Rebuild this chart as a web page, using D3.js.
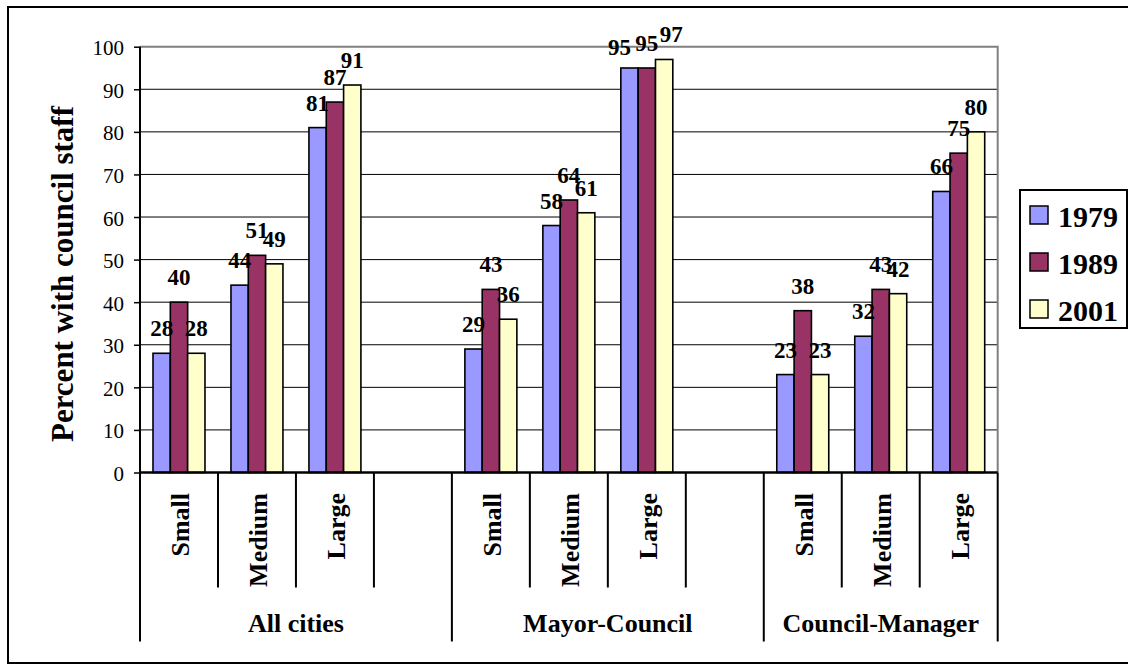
<!DOCTYPE html>
<html>
<head>
<meta charset="utf-8">
<script src="https://cdn.jsdelivr.net/npm/d3@7"></script>
<style>
  html, body { margin: 0; padding: 0; background: #fff; }
  svg { display: block; }
  text { font-family: "Liberation Serif", "Times New Roman", Times, serif; fill: #000; }
</style>
</head>
<body>
<svg id="chart" width="1128" height="665"></svg>
<script>
// City groups, size classes and survey years
const groups = ["All cities", "Mayor-Council", "Council-Manager"];
const sizes = ["Small", "Medium", "Large"];
const years = ["1979", "1989", "2001"];

// Percent of cities with council staff, ordered group by group, Small / Medium / Large
const v1979 = [28, 44, 81, 29, 58, 95, 23, 32, 66];
const v1989 = [40, 51, 87, 43, 64, 95, 38, 43, 75];
const v2001 = [28, 49, 91, 36, 61, 97, 23, 42, 80];

const yTicks = [0, 10, 20, 30, 40, 50, 60, 70, 80, 90, 100];
const colors = ["#9999FF", "#993366", "#FFFFCC"];

const series = [v1979, v1989, v2001];

// Hand-placed value labels (keyed by value index and series index): [dx, dy]
const labelNudge = { "5-0": [-10, 4], "5-2": [7, 0] };

// Category slots: three sizes per group, with an empty slot between groups
const slots = [];
groups.forEach((g, gi) => {
  sizes.forEach((s, si) => slots.push({ group: gi, size: s, idx: gi * 3 + si }));
  if (gi < groups.length - 1) slots.push({ group: gi, size: "", idx: null });
});

const svg = d3.select("#chart");

const plot = { left: 140, right: 997.7, top: 46.7, bottom: 472.5 };

const x0 = d3.scaleBand()
  .domain(d3.range(slots.length))
  .range([plot.left, plot.right])
  .paddingInner(0).paddingOuter(0);

const x1 = d3.scaleBand()
  .domain(years)
  .range([0, x0.bandwidth()])
  .paddingInner(0)
  .paddingOuter(0.75);

const y = d3.scaleLinear().domain([0, 100]).range([plot.bottom, plot.top]);

// Outer chart frame
svg.append("rect")
  .attr("x", 8).attr("y", 7)
  .attr("width", 1140).attr("height", 656)
  .attr("fill", "none").attr("stroke", "#000").attr("stroke-width", 2);

// Horizontal gridlines
svg.append("g")
  .selectAll("line")
  .data(yTicks.filter(t => t > 0 && t < 100))
  .join("line")
  .attr("x1", plot.left).attr("x2", plot.right)
  .attr("y1", d => y(d)).attr("y2", d => y(d))
  .attr("stroke", "#000").attr("stroke-width", 1);

// Plot area border (top and right, grey)
svg.append("path")
  .attr("d", `M${plot.left},${y(100)}H${plot.right}V${plot.bottom}`)
  .attr("fill", "none").attr("stroke", "#808080").attr("stroke-width", 2);

// Bars
const barData = [];
slots.forEach((sl, si) => {
  if (sl.idx === null) return;
  years.forEach((yr, k) => {
    barData.push({ slot: si, idx: sl.idx, year: yr, k, value: series[k][sl.idx] });
  });
});

svg.append("g")
  .selectAll("rect")
  .data(barData)
  .join("rect")
  .attr("x", d => x0(d.slot) + x1(d.year))
  .attr("y", d => y(d.value))
  .attr("width", x1.bandwidth())
  .attr("height", d => y(0) - y(d.value))
  .attr("fill", d => colors[d.k])
  .attr("stroke", "#000").attr("stroke-width", 1.6);

// Value labels
const nudge = d => labelNudge[`${d.idx}-${d.k}`] || [0, 0];
svg.append("g")
  .selectAll("text")
  .data(barData)
  .join("text")
  .attr("x", d => x0(d.slot) + x1(d.year) + x1.bandwidth() / 2 + nudge(d)[0])
  .attr("y", d => y(d.value) - 17 + nudge(d)[1])
  .attr("text-anchor", "middle")
  .style("font-size", "23px")
  .style("font-weight", "bold")
  .text(d => d.value);

// Y axis
const yAxis = d3.axisLeft(y).tickValues(yTicks).tickSize(6).tickPadding(10);
const yg = svg.append("g")
  .attr("transform", `translate(${plot.left},0)`)
  .call(yAxis);
yg.select(".domain").remove();
yg.selectAll(".tick line").attr("stroke", "#000").attr("stroke-width", 1.5);
yg.selectAll(".tick text")
  .attr("dy", "0.38em")
  .style("font-size", "21px")
  .style("font-family", "'Liberation Serif', 'Times New Roman', Times, serif");

// Category axis line
svg.append("line")
  .attr("x1", plot.left).attr("x2", plot.right)
  .attr("y1", plot.bottom).attr("y2", plot.bottom)
  .attr("stroke", "#000").attr("stroke-width", 2.5);

// Slot dividers below the axis; group boundaries extend further
const groupBounds = [0, 4, 8, 11];
const dividers = d3.range(slots.length + 1);
svg.append("g")
  .selectAll("line")
  .data(dividers)
  .join("line")
  .attr("x1", d => d < slots.length ? x0(d) : plot.right)
  .attr("x2", d => d < slots.length ? x0(d) : plot.right)
  .attr("y1", d => d === 0 ? plot.top : plot.bottom)
  .attr("y2", d => groupBounds.includes(d) ? 641.5 : 587.5)
  .attr("stroke", "#000").attr("stroke-width", 2);

// Size labels (rotated)
svg.append("g")
  .selectAll("text")
  .data(slots.map((s, i) => ({ ...s, i })).filter(s => s.size))
  .join("text")
  .attr("transform", d => `translate(${x0(d.i) + x0.bandwidth() / 2 + 10.5},493) rotate(-90)`)
  .attr("text-anchor", "end")
  .style("font-size", "26px")
  .style("font-weight", "bold")
  .text(d => d.size);

// Group labels
svg.append("g")
  .selectAll("text")
  .data(groups)
  .join("text")
  .attr("x", (d, i) => {
    const a = x0(groupBounds[i]);
    const b = groupBounds[i + 1] < slots.length ? x0(groupBounds[i + 1]) : plot.right;
    return (a + b) / 2;
  })
  .attr("y", 632)
  .attr("text-anchor", "middle")
  .style("font-size", "26px")
  .style("font-weight", "bold")
  .text(d => d);

// Y axis title
svg.append("text")
  .attr("transform", "translate(73,274) rotate(-90)")
  .attr("text-anchor", "middle")
  .style("font-size", "31px")
  .style("font-weight", "bold")
  .text("Percent with council staff");

// Legend
const legend = svg.append("g");
legend.append("rect")
  .attr("x", 1020).attr("y", 190)
  .attr("width", 107).attr("height", 138)
  .attr("fill", "#fff").attr("stroke", "#000").attr("stroke-width", 2);
const ly = d3.scalePoint().domain(years).range([215, 309]);
const items = legend.selectAll("g.item")
  .data(years)
  .join("g").attr("class", "item")
  .attr("transform", d => `translate(0,${ly(d)})`);
items.append("rect")
  .attr("x", 1030).attr("y", -9)
  .attr("width", 18).attr("height", 18)
  .attr("fill", (d, i) => colors[i])
  .attr("stroke", "#000").attr("stroke-width", 1.5);
items.append("text")
  .attr("x", 1058).attr("y", 11.5)
  .style("font-size", "30px")
  .style("font-weight", "bold")
  .text(d => d);
</script>
</body>
</html>
